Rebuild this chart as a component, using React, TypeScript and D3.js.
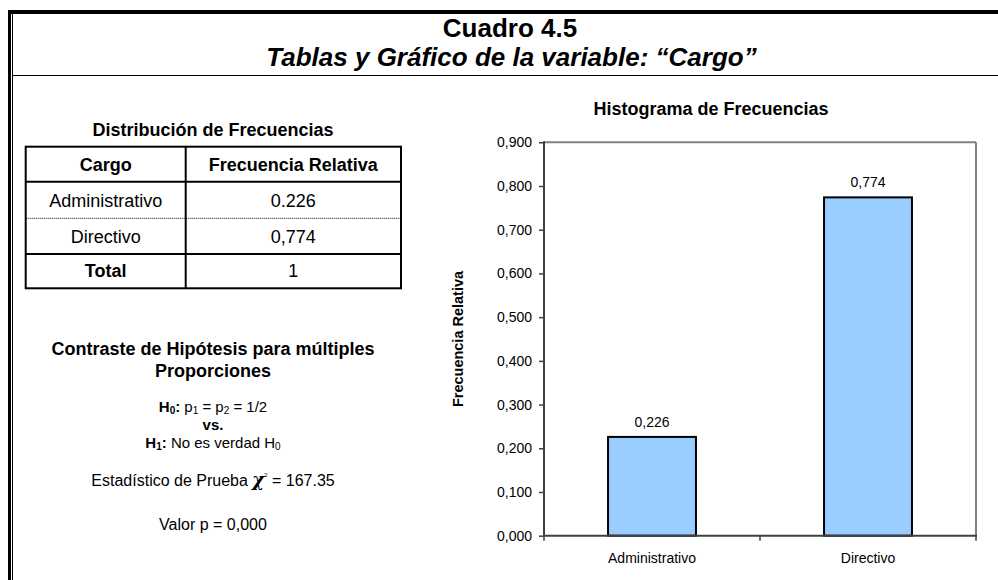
import React from "react";
import * as d3 from "d3";

const FONT = "'Liberation Sans', Arial, sans-serif";

const categories = ["Administrativo", "Directivo"];
const relFreq = [0.226, 0.774];
const tableFreqLabels = ["0.226", "0,774"];
const totalLabel = "1";
const yTicks = [0, 0.1, 0.2, 0.3, 0.4, 0.5, 0.6, 0.7, 0.8, 0.9];

const fmt = (v: number) => d3.format(".3f")(v).replace(".", ",");

const App = () => {
  const plot = { left: 544, right: 976, top: 142.3, bottom: 535.7 };

  const x = d3
    .scaleBand<string>()
    .domain(categories)
    .range([plot.left, plot.right])
    .padding(0);
  const barW = x.bandwidth() * 0.407;

  const y = d3.scaleLinear().domain([0, 0.9]).range([plot.bottom, plot.top]);

  const yAxisRef = (node: SVGGElement | null) => {
    if (!node) return;
    const g = d3.select(node);
    g.call(
      d3
        .axisLeft(y)
        .tickValues(yTicks)
        .tickSize(5)
        .tickSizeOuter(0)
        .tickPadding(7)
        .tickFormat((d) => fmt(+d))
    );
    g.select(".domain").remove();
    g.selectAll(".tick line").attr("stroke", "#404040").attr("stroke-width", 1.5);
    g.selectAll(".tick text")
      .attr("font-size", 14)
      .attr("font-family", FONT)
      .attr("fill", "#000");
  };

  // table geometry
  const tb = { left: 25.7, right: 401, mid: 185.7, rows: [146.7, 181.7, 218.3, 254, 288.3] };
  const c1 = (tb.left + tb.mid) / 2;
  const c2 = (tb.mid + tb.right) / 2;
  const hx = 213;

  const xEdges = [...categories.map((c) => x(c) as number), plot.right];

  return (
    <div style={{ position: "absolute", left: 0, top: 0 }}>
      <svg width={998} height={580} style={{ display: "block", background: "#fff" }} fontFamily={FONT}>
        {/* frame */}
        <rect x={8} y={10} width={990} height={4} fill="#000" />
        <rect x={8} y={10} width={3} height={570} fill="#000" />
        <line x1={12.5} x2={12.5} y1={14} y2={580} stroke="#000" strokeWidth={1} />
        <line x1={12} x2={998} y1={75.5} y2={75.5} stroke="#000" strokeWidth={1} />

        <text x={510} y={37} textAnchor="middle" fontSize={26} fontWeight="bold">
          Cuadro 4.5
        </text>
        <text x={511.5} y={66} textAnchor="middle" fontSize={26} fontWeight="bold" fontStyle="italic">
          Tablas y Gráfico de la variable: “Cargo”
        </text>

        {/* frequency table */}
        <text x={hx} y={136} textAnchor="middle" fontSize={18} fontWeight="bold">
          Distribución de Frecuencias
        </text>
        <rect
          x={tb.left}
          y={tb.rows[0]}
          width={tb.right - tb.left}
          height={tb.rows[4] - tb.rows[0]}
          fill="none"
          stroke="#000"
          strokeWidth={2}
        />
        <line x1={tb.mid} x2={tb.mid} y1={tb.rows[0]} y2={tb.rows[4]} stroke="#000" strokeWidth={2} />
        <line x1={tb.left} x2={tb.right} y1={tb.rows[1]} y2={tb.rows[1]} stroke="#000" strokeWidth={2} />
        <line
          x1={tb.left}
          x2={tb.right}
          y1={tb.rows[2]}
          y2={tb.rows[2]}
          stroke="#000"
          strokeWidth={1}
          strokeDasharray="1,1"
        />
        <line x1={tb.left} x2={tb.right} y1={tb.rows[3]} y2={tb.rows[3]} stroke="#000" strokeWidth={2} />

        <text x={c1} y={170.7} textAnchor="middle" fontSize={18} fontWeight="bold">
          Cargo
        </text>
        <text x={c2} y={170.7} textAnchor="middle" fontSize={18} fontWeight="bold">
          Frecuencia Relativa
        </text>
        {categories.map((c, i) => (
          <g key={c}>
            <text x={c1} y={207 + i * 36} textAnchor="middle" fontSize={18}>
              {c}
            </text>
            <text x={c2} y={207 + i * 36} textAnchor="middle" fontSize={18}>
              {tableFreqLabels[i]}
            </text>
          </g>
        ))}
        <text x={c1} y={276.7} textAnchor="middle" fontSize={18} fontWeight="bold">
          Total
        </text>
        <text x={c2} y={276.7} textAnchor="middle" fontSize={18}>
          {totalLabel}
        </text>

        {/* hypothesis test */}
        <text x={hx} y={355} textAnchor="middle" fontSize={18} fontWeight="bold">
          Contraste de Hipótesis para múltiples
        </text>
        <text x={hx} y={376.7} textAnchor="middle" fontSize={18} fontWeight="bold">
          Proporciones
        </text>
        <text x={hx} y={412} textAnchor="middle" fontSize={15}>
          <tspan fontWeight="bold">H</tspan>
          <tspan fontWeight="bold" fontSize={10} dy={2}>0</tspan>
          <tspan fontWeight="bold" dy={-2}>:</tspan>
          <tspan> p</tspan>
          <tspan fontSize={10} dy={2}>1</tspan>
          <tspan dy={-2}> = p</tspan>
          <tspan fontSize={10} dy={2}>2</tspan>
          <tspan dy={-2}> = 1/2</tspan>
        </text>
        <text x={hx} y={430} textAnchor="middle" fontSize={15} fontWeight="bold">
          vs.
        </text>
        <text x={hx} y={447.7} textAnchor="middle" fontSize={15}>
          <tspan fontWeight="bold">H</tspan>
          <tspan fontWeight="bold" fontSize={10} dy={2}>1</tspan>
          <tspan fontWeight="bold" dy={-2}>:</tspan>
          <tspan> No es verdad H</tspan>
          <tspan fontSize={10} dy={2}>0</tspan>
        </text>
        <text x={hx} y={486} textAnchor="middle" fontSize={16}>
          <tspan>Estadístico de Prueba </tspan>
          <tspan fontFamily="'DejaVu Serif', serif" fontStyle="italic" fontWeight="bold" fontSize={18}>
            χ
          </tspan>
          <tspan fontSize={6} dy={-9}>2</tspan>
          <tspan dy={9}> = 167.35</tspan>
        </text>
        <text x={hx} y={530} textAnchor="middle" fontSize={16}>
          Valor p = 0,000
        </text>

        {/* chart */}
        <text x={(plot.left + plot.right) / 2 - 49} y={115} textAnchor="middle" fontSize={18} fontWeight="bold">
          Histograma de Frecuencias
        </text>
        <text
          transform={`translate(463,${(plot.top + plot.bottom) / 2}) rotate(-90)`}
          textAnchor="middle"
          fontSize={14.5}
          fontWeight="bold"
        >
          Frecuencia Relativa
        </text>

        <line x1={plot.left} x2={plot.right} y1={plot.top} y2={plot.top} stroke="#808080" strokeWidth={2} />
        <line x1={plot.right} x2={plot.right} y1={plot.top} y2={plot.bottom} stroke="#808080" strokeWidth={2} />

        {categories.map((c, i) => {
          const cx = (x(c) as number) + x.bandwidth() / 2;
          return (
            <g key={c}>
              <rect
                x={cx - barW / 2}
                y={y(relFreq[i])}
                width={barW}
                height={y(0) - y(relFreq[i])}
                fill="#99CCFF"
                stroke="#000"
                strokeWidth={2}
              />
              <text x={cx} y={y(relFreq[i]) - 10} textAnchor="middle" fontSize={14}>
                {fmt(relFreq[i])}
              </text>
              <text x={cx} y={563} textAnchor="middle" fontSize={14}>
                {c}
              </text>
            </g>
          );
        })}

        <line x1={plot.left} x2={plot.left} y1={plot.top - 1} y2={plot.bottom} stroke="#404040" strokeWidth={2} />
        <line x1={plot.left} x2={plot.right + 1} y1={plot.bottom} y2={plot.bottom} stroke="#404040" strokeWidth={2} />
        {xEdges.map((ex, i) => (
          <line key={i} x1={ex} x2={ex} y1={plot.bottom} y2={plot.bottom + 5} stroke="#404040" strokeWidth={1.5} />
        ))}
        <g ref={yAxisRef} transform={`translate(${plot.left},0)`} />
      </svg>
    </div>
  );
};

export default App;
